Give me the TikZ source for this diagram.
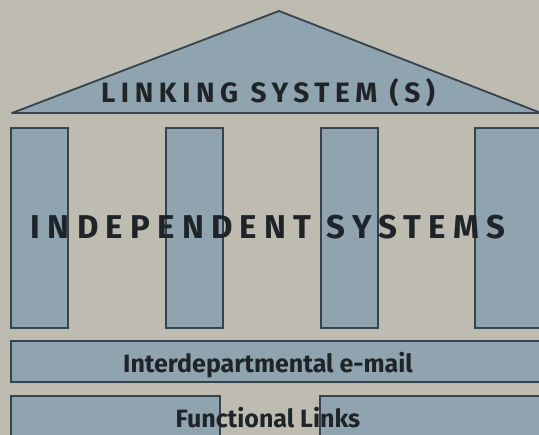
\documentclass[tikz,border=0pt]{standalone}
\usepackage{fontspec}
\setmainfont{Fira Sans}
\newfontfamily\wideface[LetterSpace=22]{Fira Sans}
\newfontfamily\roofface[LetterSpace=20]{Fira Sans}
\definecolor{paper}{HTML}{BEBBB1}
\definecolor{slab}{HTML}{8FA4AE}
\definecolor{edge}{HTML}{34434D}
\definecolor{ink}{HTML}{1E2428}
\tikzset{
  slabbox/.style={draw=edge,fill=slab,line width=1.6pt,inner sep=0pt,anchor=south west},
  pillar/.style={slabbox,minimum width=57pt,minimum height=200pt},
  bartext/.style={text=ink,anchor=base,font=\bfseries\fontsize{25}{28}\selectfont}
}
\begin{document}
\begin{tikzpicture}[x=1pt,y=1pt]
    \fill[paper] (0,0) rectangle (539,435);
    \useasboundingbox (0,0) rectangle (539,435);
    \coordinate (apex) at (279,424);
    \coordinate (eaveL) at (12,322);
    \coordinate (eaveR) at (541,322);
    \draw[edge,fill=slab,line width=1.8pt,line join=round] (eaveL) -- (apex) -- (eaveR) -- cycle;
    \node[text=ink,anchor=base,font=\roofface\bfseries\fontsize{28}{30}\selectfont] (roof) at (268,332) {LINKING SYSTEM (S)};
    \node[pillar] (p1) at (10,106) {};
    \node[pillar] (p2) at (165,106) {};
    \node[pillar] (p3) at (320,106) {};
    \node[pillar,minimum width=80pt] (p4) at (474,106) {};
    \node[text=ink,anchor=base,font=\wideface\bfseries\fontsize{33}{35}\selectfont] (indep) at (268,196) {INDEPENDENT SYSTEMS};
    \node[slabbox,minimum width=560pt,minimum height=41pt] (mail) at (10,52) {};
    \node[bartext] (mailtext) at (268,62) {Interdepartmental e-mail};
    \node[slabbox,minimum width=209pt,minimum height=60pt] (linkL) at (10,-22) {};
    \node[slabbox,minimum width=240pt,minimum height=60pt] (linkR) at (319,-22) {};
    \node[bartext] (linktext) at (268,7) {Functional Links};
\end{tikzpicture}
\end{document}
